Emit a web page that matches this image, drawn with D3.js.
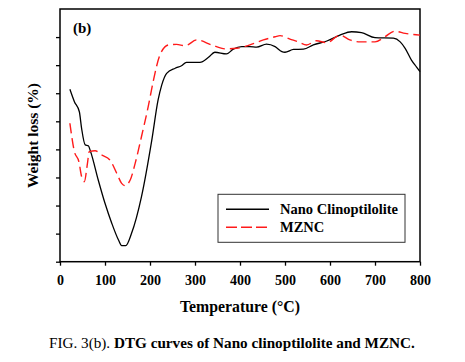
<!DOCTYPE html>
<html>
<head>
<meta charset="utf-8">
<script src="https://cdn.jsdelivr.net/npm/d3@7"></script>
<style>
  body { margin: 0; background: #fff; }
  text { font-family: "Liberation Serif", "Times New Roman", serif; }
</style>
</head>
<body>
<svg width="465" height="362"></svg>
<script>
// temperatures (°C) and DTG readings (arbitrary units)
var tempNano = [22, 32, 43, 48, 56, 63, 68, 85, 100, 115, 130, 137, 146, 159, 181, 204, 218, 226, 237, 256, 270, 281, 311, 330, 344, 370, 385, 404, 422, 437, 459, 478, 493, 500, 519, 541, 563, 593, 622, 648, 670, 700, 741, 756, 767, 781, 792, 800];
var nano = [6.14, 5.70, 5.34, 4.75, 4.16, 4.13, 3.92, 2.91, 2.08, 1.37, 0.77, 0.57, 0.57, 1.01, 2.31, 4.33, 5.76, 6.29, 6.71, 6.89, 6.98, 7.10, 7.10, 7.28, 7.46, 7.40, 7.57, 7.66, 7.66, 7.64, 7.75, 7.66, 7.48, 7.46, 7.56, 7.57, 7.72, 7.86, 8.07, 8.19, 8.16, 7.98, 7.96, 7.83, 7.60, 7.18, 6.94, 6.77];

var tempMznc = [22, 32, 42, 48, 54, 61, 65, 78, 93, 111, 126, 137, 144, 156, 167, 181, 196, 207, 222, 241, 259, 278, 304, 337, 367, 393, 422, 452, 478, 489, 511, 530, 548, 570, 593, 622, 644, 667, 700, 722, 744, 767, 800];
var mznc = [4.93, 3.92, 3.56, 3.03, 2.85, 3.50, 3.92, 3.95, 3.80, 3.62, 3.15, 2.79, 2.71, 2.91, 3.50, 4.45, 5.52, 6.41, 7.36, 7.72, 7.74, 7.69, 7.90, 7.72, 7.58, 7.60, 7.72, 7.90, 8.01, 8.05, 7.93, 7.83, 7.72, 7.87, 7.80, 8.07, 7.90, 7.83, 7.83, 8.01, 8.21, 8.13, 8.07];

var xTicks = [0, 100, 200, 300, 400, 500, 600, 700, 800];
var yTicks = [0, 1, 2, 3, 4, 5, 6, 7, 8];
var seriesNames = ["Nano Clinoptilolite", "MZNC"];

var svg = d3.select("svg"),
    margin = { top: 9, left: 60 },
    width = 360,
    height = 252.7;

svg.append("rect").attr("width", 465).attr("height", 362).attr("fill", "#fff");

var x = d3.scaleLinear().domain([0, 800]).range([0, width]),
    y = d3.scaleLinear().domain([0, 9]).range([height, 0]);

var g = svg.append("g")
    .attr("transform", "translate(" + margin.left + "," + margin.top + ")");

// x axis
var xa = g.append("g")
    .attr("transform", "translate(0," + height + ")")
    .call(d3.axisBottom(x).tickValues(xTicks).tickSize(4).tickSizeOuter(0).tickPadding(9));
xa.selectAll("text")
    .style("font-family", "Liberation Serif")
    .style("font-weight", "bold")
    .style("font-size", "14px")
    .attr("fill", "#000");

// y axis, ticks only
g.append("g")
    .call(d3.axisLeft(y).tickValues(yTicks).tickSize(4).tickSizeOuter(0).tickFormat(""));

g.selectAll(".domain").remove();
g.selectAll(".tick line").attr("stroke", "#000").attr("stroke-width", 1.3);

// frame
g.append("rect")
    .attr("width", width)
    .attr("height", height)
    .attr("fill", "none")
    .attr("stroke", "#000")
    .attr("stroke-width", 1.5);

var line = d3.line()
    .x(function (d) { return x(d[0]); })
    .y(function (d) { return y(d[1]); })
    .curve(d3.curveMonotoneX);

g.append("path")
    .datum(d3.zip(tempNano, nano))
    .attr("d", line)
    .attr("fill", "none")
    .attr("stroke", "#000")
    .attr("stroke-width", 1.3);

g.append("path")
    .datum(d3.zip(tempMznc, mznc))
    .attr("d", line)
    .attr("fill", "none")
    .attr("stroke", "#ff1a1a")
    .attr("stroke-width", 1.4)
    .attr("stroke-dasharray", "10,5");

// panel label
g.append("text")
    .attr("x", 13).attr("y", 24)
    .style("font-weight", "bold").style("font-size", "15px")
    .text("(b)");

// legend
var lg = svg.append("g").attr("transform", "translate(218,194.3)");
lg.append("rect")
    .attr("width", 187).attr("height", 48)
    .attr("fill", "#fff").attr("stroke", "#333").attr("stroke-width", 1);
var styles = [{ c: "#000", d: null }, { c: "#ff1a1a", d: "11,4" }];
seriesNames.forEach(function (name, i) {
    var yy = 15 + i * 18;
    lg.append("line")
        .attr("x1", 8).attr("x2", 51).attr("y1", yy).attr("y2", yy)
        .attr("stroke", styles[i].c).attr("stroke-width", 1.4)
        .attr("stroke-dasharray", styles[i].d);
    lg.append("text")
        .attr("x", 62).attr("y", yy + 4.5)
        .style("font-weight", "bold").style("font-size", "14.5px")
        .text(name);
});

// axis titles
svg.append("text")
    .attr("x", 240).attr("y", 311.7)
    .attr("text-anchor", "middle")
    .style("font-weight", "bold").style("font-size", "15.8px")
    .text("Temperature (°C)");

svg.append("text")
    .attr("transform", "translate(38,135.5) rotate(-90)")
    .attr("text-anchor", "middle")
    .style("font-weight", "bold").style("font-size", "15.5px")
    .text("Weight loss (%)");

// caption
var cap = svg.append("text")
    .attr("x", 49).attr("y", 348)
    .style("font-size", "15.2px");
cap.append("tspan").text("FIG. 3(b). ");
cap.append("tspan").style("font-weight", "bold").text("DTG curves of Nano clinoptilolite and MZNC.");
</script>
</body>
</html>
